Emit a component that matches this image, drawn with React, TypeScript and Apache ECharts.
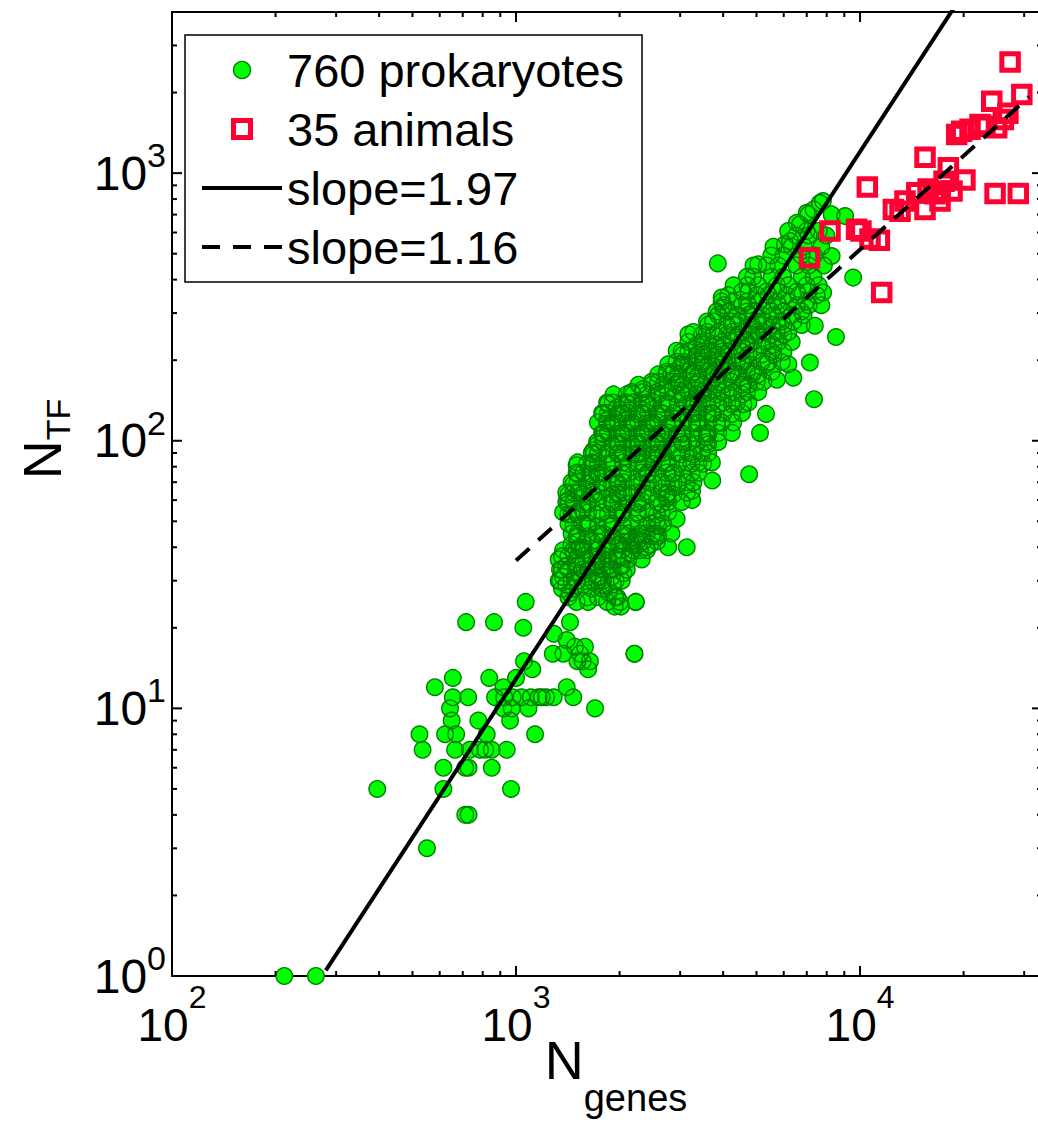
import React, { useEffect, useRef } from 'react';
import * as echarts from 'echarts';

const X_MIN = 100;
const X_MAX = 33800;
const Y_MIN = 1;
const Y_MAX = 4000;

const LEGEND_NAMES = ['760 prokaryotes', '35 animals', 'slope=1.97', 'slope=1.16'];
const X_TITLE = 'genes';
const Y_TITLE = 'TF';

// individually read prokaryote points [N_genes, N_TF]
const prokaryotePoints: [number, number][] = [
  [212, 1], [262, 1], [395, 5], [551, 3], [615, 5], [615, 6], [535, 7], [712, 4], [728, 4],
  [712, 6], [728, 6], [665, 7], [734, 7], [967, 5], [850, 6],
  [1067, 25], [716, 21], [863, 21], [1050, 20], [1288, 19], [1279, 16], [1055, 15], [1115, 14],
  [655, 13], [836, 13], [1000, 13], [581, 12], [919, 12],
  [655, 11], [726, 11], [869, 11], [924, 11], [977, 11], [1037, 11], [1104, 11], [1164, 11], [1223, 11], [1287, 11],
  [643, 10], [919, 10], [972, 10], [1087, 10], [650, 9], [961, 9], [777, 9],
  [524, 8], [622, 8], [670, 8], [822, 8], [1136, 8], [786, 7], [814, 7], [850, 7], [940, 7],
  [1435, 21], [1404, 18], [1484, 17], [1587, 17], [1373, 16], [1535, 16], [1563, 15], [1640, 15],
  [1620, 14], [1508, 15], [2208, 16], [1404, 12], [1467, 11], [1188, 11], [1697, 10],
  [2228, 25], [2019, 24], [1935, 24],
  [7800, 786], [7640, 773], [7330, 732], [7000, 711], [8270, 701], [9050, 691], [7075, 701],
  [6690, 643], [6550, 652], [6260, 557], [6050, 542], [8270, 490], [5060, 456], [3860, 460],
  [9550, 407], [7810, 358], [7390, 269], [8510, 244], [7150, 196], [6190, 193], [6400, 172],
  [5730, 169], [7350, 143], [5330, 126], [5120, 107], [4760, 75], [3960, 343], [4000, 314],
  [3170, 250], [2930, 217], [3720, 71], [3250, 65], [3250, 60], [2930, 51], [3135, 40], [2770, 40],
  [2230, 25], [2210, 16], [3500, 82], [3580, 103],
  [2742, 177], [2344, 156], [1965, 133], [1835, 119], [1795, 103], [1678, 92], [1500, 81],
  [1641, 74], [1517, 64], [1419, 60], [1419, 53], [1563, 55], [1535, 40], [2742, 61],
  [2566, 50], [2566, 45], [2293, 45], [2454, 41], [2145, 42], [1860, 40],
  [1342, 33], [1342, 30], [1435, 27], [1535, 32], [1563, 40], [1671, 30], [1786, 28], [1860, 27],
  [1943, 26], [2006, 25], [1880, 33], [2006, 34], [2052, 32], [2145, 38], [2293, 39], [2394, 40],
  [1860, 36], [1711, 35], [1605, 36], [1493, 35], [1948, 30], [1754, 31], [2006, 41], [1467, 39],
];

// dense band, read row by row: [N_TF, N_genes of the points in that row]
const prokaryoteRows: [number, number[]][] = [
  [608, [6180, 6990, 7590]],
  [585, [6520, 7090, 7980]],
  [531, [5600, 6330, 6870, 7720]],
  [492, [5520, 5990, 6760, 7340]],
  [452, [4900, 5360, 5790, 6540, 7090, 7850]],
  [410, [4690, 4890, 5530, 5980, 6770, 7330]],
  [381, [4290, 4700, 5060, 5730, 6190, 6990, 7580]],
  [361, [4540, 4740, 5350, 5790, 6550, 7080]],
  [350, [4140, 5010, 5420, 6110, 6620, 7480]],
  [331, [3960, 4280, 4690, 5070, 5730, 6190, 6990]],
  [321, [4010, 4540, 4740, 5360, 5790, 6550, 7090, 7720]],
  [304, [3830, 4140, 4690, 4900, 5540, 5990, 6760]],
  [295, [3870, 4390, 4740, 5190, 5600, 6330, 6850]],
  [279, [3590, 3740, 4240, 4430, 5010, 5240, 5920, 6400]],
  [271, [3620, 4100, 4280, 4850, 5060, 5540, 5990, 6770]],
  [255, [3280, 3590, 3870, 4240, 4580, 5010, 5240, 5730, 6190]],
  [249, [3470, 3750, 4100, 4430, 4850, 5060, 5540, 5990]],
  [234, [3170, 3470, 3620, 3960, 4280, 4690, 4900, 5350, 5790, 6330]],
  [228, [3350, 3500, 3830, 4010, 4540, 4740, 5180, 5600]],
  [215, [3030, 3170, 3470, 3620, 3960, 4140, 4540, 4900, 5540, 5990]],
  [210, [3060, 3350, 3500, 3830, 4010, 4390, 4740, 5180, 5600]],
  [197, [2930, 3060, 3350, 3500, 3830, 4010, 4390, 4580, 5180, 5420, 5920]],
  [193, [2770, 3030, 3170, 3470, 3620, 3960, 4140, 4540, 4740, 5350]],
  [181, [2740, 2870, 3140, 3280, 3590, 3740, 4100, 4280, 4690, 4900, 5540]],
  [177, [2590, 2830, 2960, 3240, 3390, 3710, 3870, 4240, 4430, 4850, 5060]],
  [166, [2480, 2590, 2840, 2960, 3240, 3390, 3710, 3870, 4240, 4580, 5010, 5240]],
  [162, [2270, 2480, 2680, 2930, 3060, 3350, 3500, 3830, 4010, 4540, 4740]],
  [152, [2170, 2340, 2570, 2770, 3030, 3170, 3470, 3620, 3960, 4280, 4690, 5060]],
  [149, [1920, 2100, 2190, 2400, 2590, 2930, 3060, 3350, 3500, 3830, 4140, 4540]],
  [139, [1840, 1910, 2100, 2190, 2400, 2510, 2740, 2960, 3240, 3390, 3710, 4010, 4390, 4740]],
  [137, [1850, 2030, 2120, 2320, 2420, 2650, 2770, 3140, 3280, 3590, 3870, 4240, 4580]],
  [127, [1780, 1850, 2030, 2120, 2320, 2420, 2650, 2870, 3240, 3390, 3710, 4010, 4540]],
  [126, [1790, 1970, 2050, 2250, 2340, 2570, 2680, 3030, 3280, 3590, 3740, 4240]],
  [117, [1730, 1900, 1980, 2170, 2270, 2480, 2590, 2840, 3060, 3350, 3620, 3960, 4280]],
  [116, [1840, 1910, 2100, 2190, 2400, 2510, 2740, 2870, 3240, 3390, 3830]],
  [107, [1780, 1850, 2030, 2120, 2320, 2420, 2650, 2770, 3030, 3280, 3590, 3870, 4240]],
  [106, [1790, 1970, 2050, 2250, 2340, 2570, 2680, 2930, 3060, 3470, 3620]],
  [99, [1720, 1790, 1970, 2050, 2250, 2340, 2570, 2680, 3030, 3170, 3590, 3870]],
  [97, [1730, 1900, 1980, 2170, 2270, 2480, 2590, 2840, 3060, 3350, 3620]],
  [90, [1660, 1730, 1970, 2050, 2250, 2340, 2570, 2680, 2930, 3170, 3470, 3620]],
  [89, [1680, 1840, 1980, 2170, 2270, 2480, 2590, 3030, 3280]],
  [83, [1510, 1660, 1730, 1900, 2050, 2250, 2340, 2650, 2770, 3140, 3390, 3710]],
  [82, [1610, 1680, 1840, 1910, 2120, 2270, 2510, 2740, 2960, 3240]],
  [76, [1500, 1570, 1720, 1790, 2030, 2120, 2320, 2420, 2740, 2870, 3240, 3390]],
  [75, [1510, 1660, 1730, 1900, 2050, 2400, 2510, 2840, 3060]],
  [70, [1450, 1510, 1660, 1790, 1970, 2050, 2250, 2420, 2650, 2870, 3140, 3280]],
  [69, [1470, 1610, 1730, 1900, 1980, 2320, 2510, 2740, 2960]],
  [64, [1400, 1470, 1660, 1730, 1970, 2050, 2250, 2340, 2650, 2770, 3140]],
  [63, [1420, 1560, 1680, 1900, 1980, 2170, 2420, 2740, 2870]],
  [59, [1400, 1470, 1610, 1730, 1900, 1980, 2250, 2340, 2570, 2770, 3030]],
  [58, [1420, 1560, 1620, 1840, 1910, 2100, 2270, 2650]],
  [54, [1370, 1500, 1620, 1780, 1970, 2050, 2250, 2420, 2650, 2770]],
  [53, [1450, 1510, 1720, 1850, 2030, 2270, 2570]],
  [49, [1420, 1560, 1620, 1840, 1910, 2170, 2270, 2480, 2680]],
  [48, [1470, 1610, 1730, 1900, 2050, 2400, 2590]],
  [45, [1450, 1510, 1720, 1790, 2030, 2120, 2400, 2510, 2830]],
  [44, [1500, 1620, 1780, 1910, 2100, 2270, 2480, 2590]],
  [42, [1510, 1660, 1730, 1900, 2050, 2250, 2340, 2570]],
  [41, [1450, 1570, 1840, 1980, 2170, 2270]],
  [39, [1370, 1500, 1570, 1720, 1850, 2030, 2190, 2400]],
  [37, [1360, 1420, 1660, 1730, 1970, 2050]],
  [36, [1330, 1500, 1570, 1720, 1790, 1970, 2120, 2320]],
  [34, [1400, 1510, 1720, 1850, 2030]],
  [33, [1360, 1420, 1560, 1620, 1780, 1910, 2100]],
  [31, [1370, 1610, 1730, 1900]],
  [30, [1330, 1450, 1510, 1720, 1790, 2030]],
  [29, [1400, 1570, 1780, 1910]],
  [28, [1360, 1470, 1660, 1790]],
  [26, [1420, 1610, 1730, 1970]],
  [25, [1500, 1620, 1840]],
];

// animals [N_genes, N_TF]
const animalPoints: [number, number][] = [
  [27300, 2603], [29530, 1966], [24150, 1857], [26100, 1586], [22330, 1519], [24950, 1476],
  [19100, 1394], [19750, 1434], [15450, 1147], [18060, 1047], [20180, 942], [16520, 837],
  [14620, 844], [15450, 732], [12500, 732], [17080, 857], [24690, 840], [28840, 840],
  [8180, 608], [9770, 617], [10060, 608], [11380, 561], [7130, 483], [11560, 358], [10500, 887],
  [15770, 872], [17550, 933], [13510, 786], [17080, 786], [23080, 1497], [20880, 1459],
  [13070, 721], [26900, 1675], [18510, 857], [10690, 567],
];

// fitted power laws, end points [N_genes, N_TF]
const fitSteep: [number, number][] = [[280, 1.05], [20000, 4710]];
const fitShallow: [number, number][] = [[1000, 35.7], [31000, 1930]];

const xMajorTicks = [1000, 10000];
const yMajorTicks = [10, 100, 1000];
const mult = [2, 3, 4, 5, 6, 7, 8, 9];
const xMinorTicks = mult.flatMap((m) => [m * 100, m * 1000]).concat([20000, 30000]);
const yMinorTicks = mult.flatMap((m) => [m, m * 10, m * 100]).concat([2000, 3000]);

const SANS = "'Liberation Sans', Arial, Helvetica, sans-serif";
const GREEN = '#00ff00';
const GREEN_EDGE = '#008000';
const RED = '#ff0033';

const powLabel = (v: number) => {
  const e = Math.log10(v);
  if (Math.abs(e - Math.round(e)) > 1e-6) return '';
  return `{b|10}{s|${Math.round(e)}}`;
};

export default function App() {
  const ref = useRef<HTMLDivElement>(null);

  useEffect(() => {
    if (!ref.current) return;
    const chart = echarts.init(ref.current, null, { renderer: 'svg' });

    const prokData = [
      ...prokaryotePoints,
      ...prokaryoteRows.flatMap(([tf, genes]) => genes.map((g) => [g, tf] as [number, number])),
    ];

    const tickData = [
      ...xMajorTicks.map((v) => [v, Y_MIN, 0]),
      ...xMinorTicks.map((v) => [v, Y_MIN, 1]),
      ...yMajorTicks.map((v) => [X_MIN, v, 2]),
      ...yMinorTicks.map((v) => [X_MIN, v, 3]),
    ];

    const option: any = {
      animation: false,
      backgroundColor: '#fff',
      grid: {
        left: 172,
        top: 12,
        width: 870,
        height: 964,
        show: true,
        borderColor: '#000',
        borderWidth: 2,
        backgroundColor: 'transparent',
        containLabel: false,
        outerBoundsMode: 'none',
      },
      xAxis: {
        type: 'log',
        logBase: 10,
        min: X_MIN,
        max: X_MAX,
        axisLine: { show: false },
        axisTick: { show: false },
        splitLine: { show: false },
        minorTick: { show: false },
        axisLabel: {
          formatter: powLabel,
          margin: 5,
          showMaxLabel: false,
          rich: {
            b: { fontFamily: SANS, fontSize: 46, lineHeight: 88, color: '#000', verticalAlign: 'middle' },
            s: { fontFamily: SANS, fontSize: 32, lineHeight: 34, color: '#000', verticalAlign: 'top' },
          },
        },
        name: `{n|N}{s|${X_TITLE}}`,
        nameLocation: 'middle',
        nameGap: 57,
        nameMoveOverlap: false,
        nameTextStyle: {
          padding: [0, 0, 0, 18],
          rich: {
            n: { fontFamily: SANS, fontSize: 54, lineHeight: 64, color: '#000', verticalAlign: 'top' },
            s: { fontFamily: SANS, fontSize: 38, lineHeight: 44, color: '#000', verticalAlign: 'top', padding: [46, 0, 0, 0] },
          },
        },
      },
      yAxis: {
        type: 'log',
        logBase: 10,
        min: Y_MIN,
        max: Y_MAX,
        axisLine: { show: false },
        axisTick: { show: false },
        splitLine: { show: false },
        minorTick: { show: false },
        axisLabel: {
          formatter: powLabel,
          margin: 6,
          showMaxLabel: false,
          rich: {
            b: { fontFamily: SANS, fontSize: 48, lineHeight: 70, color: '#000', verticalAlign: 'middle' },
            s: { fontFamily: SANS, fontSize: 34, lineHeight: 30, color: '#000', verticalAlign: 'top' },
          },
        },
        name: `{n|N}{s|${Y_TITLE}}`,
        nameLocation: 'middle',
        nameGap: 97,
        nameRotate: 90,
        nameMoveOverlap: false,
        nameTextStyle: {
          padding: [0, 0, 0, 110],
          rich: {
            n: { fontFamily: SANS, fontSize: 54, lineHeight: 60, color: '#000', verticalAlign: 'top' },
            s: { fontFamily: SANS, fontSize: 34, lineHeight: 34, color: '#000', verticalAlign: 'bottom' },
          },
        },
      },
      legend: {
        orient: 'vertical',
        left: 185,
        top: 35,
        align: 'left',
        backgroundColor: '#fff',
        borderColor: '#000',
        borderWidth: 1.5,
        padding: [10, 18, 10, 15],
        itemGap: 9,
        itemWidth: 80,
        itemHeight: 17,
        selectedMode: false,
        textStyle: { fontFamily: SANS, fontSize: 47, lineHeight: 50, color: '#000' },
        data: [
          { name: LEGEND_NAMES[0], icon: 'circle', itemStyle: { color: GREEN, borderColor: GREEN_EDGE, borderWidth: 1.4 } },
          {
            name: LEGEND_NAMES[1],
            icon: 'path://M0,0L10,0L10,10L0,10Z',
            itemStyle: { color: 'rgba(0,0,0,0)', borderColor: RED, borderWidth: 5 },
          },
          {
            name: LEGEND_NAMES[2],
            itemStyle: { color: 'rgba(0,0,0,0)', borderColor: 'rgba(0,0,0,0)', borderWidth: 0 },
            lineStyle: { color: '#000', width: 4, type: 'solid' },
          },
          {
            name: LEGEND_NAMES[3],
            itemStyle: { color: 'rgba(0,0,0,0)', borderColor: 'rgba(0,0,0,0)', borderWidth: 0 },
            lineStyle: { color: '#000', width: 4, type: [18, 13] },
          },
        ],
      },
      series: [
        {
          name: LEGEND_NAMES[0],
          type: 'scatter',
          data: prokData,
          symbol: 'circle',
          symbolSize: 16.5,
          itemStyle: { color: GREEN, borderWidth: 0, opacity: 1 },
          emphasis: { disabled: true },
          silent: true,
        },
        {
          name: 'prokaryote outlines',
          type: 'scatter',
          data: prokData,
          symbol: 'circle',
          symbolSize: 16.5,
          itemStyle: { color: 'rgba(0,0,0,0)', borderColor: GREEN_EDGE, borderWidth: 1.4, opacity: 1 },
          emphasis: { disabled: true },
          silent: true,
        },
        {
          name: LEGEND_NAMES[1],
          type: 'scatter',
          data: animalPoints,
          symbol: 'rect',
          symbolSize: 16.5,
          itemStyle: { color: 'rgba(0,0,0,0)', borderColor: RED, borderWidth: 5, opacity: 1 },
          emphasis: { disabled: true },
          silent: true,
        },
        {
          name: LEGEND_NAMES[2],
          type: 'line',
          data: fitSteep,
          symbol: 'none',
          lineStyle: { color: '#000', width: 4, type: 'solid' },
          itemStyle: { color: '#000' },
          silent: true,
        },
        {
          name: LEGEND_NAMES[3],
          type: 'line',
          data: fitShallow,
          symbol: 'none',
          lineStyle: { color: '#000', width: 4, type: [18, 12] },
          itemStyle: { color: '#000' },
          silent: true,
        },
        {
          name: 'ticks',
          type: 'custom',
          data: tickData,
          clip: false,
          silent: true,
          z: 5,
          renderItem: (params: any, api: any) => {
            const kind = api.value(2);
            const len = kind % 2 === 0 ? 10 : 5;
            const st = { stroke: '#000', lineWidth: 2 };
            if (kind < 2) {
              const v = api.value(0);
              const b = api.coord([v, Y_MIN]);
              const t = api.coord([v, Y_MAX]);
              return {
                type: 'group',
                children: [
                  { type: 'line', shape: { x1: b[0], y1: b[1], x2: b[0], y2: b[1] - len }, style: st },
                  { type: 'line', shape: { x1: t[0], y1: t[1], x2: t[0], y2: t[1] + len }, style: st },
                ],
              };
            }
            const v = api.value(1);
            const l = api.coord([X_MIN, v]);
            const r = api.coord([X_MAX, v]);
            return {
              type: 'group',
              children: [
                { type: 'line', shape: { x1: l[0], y1: l[1], x2: l[0] + len, y2: l[1] }, style: st },
                { type: 'line', shape: { x1: r[0], y1: r[1], x2: r[0] - len, y2: r[1] }, style: st },
              ],
            };
          },
        },
      ],
    };

    chart.setOption(option);
    return () => chart.dispose();
  }, []);

  return (
    <div
      ref={ref}
      style={{ position: 'absolute', left: 0, top: 0, width: 1038, height: 1126, background: '#fff' }}
    />
  );
}
